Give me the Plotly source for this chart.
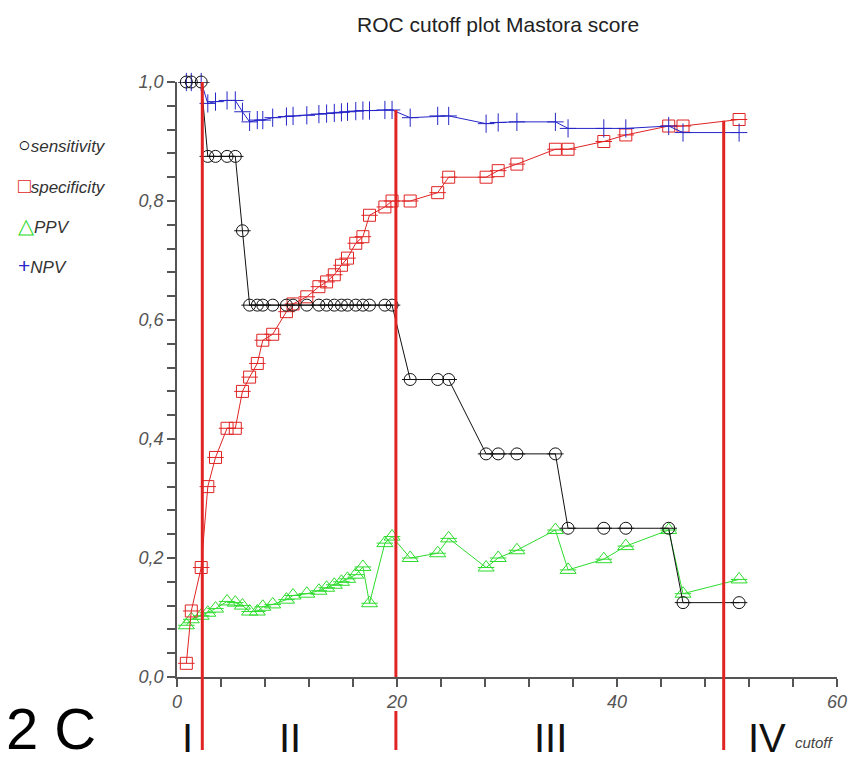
import plotly.graph_objects as go

# ---- data ----
cutoff = [0.85, 1.3, 2.2, 2.8, 3.5, 4.55, 5.3, 5.95, 6.6, 7.3, 7.8, 8.7, 9.95, 10.55,
          11.8, 12.9, 13.6, 14.3, 14.95, 15.5, 16.25, 16.9, 17.5, 18.9, 19.55, 21.2,
          23.7, 24.7, 28.1, 29.2, 30.9, 34.4, 35.55, 38.8, 40.8, 44.7, 46.0, 51.1]
sensitivity = [1.0, 1.0, 1.0, 0.875, 0.875, 0.875, 0.875, 0.75,
               0.625, 0.625, 0.625, 0.625, 0.625, 0.625, 0.625, 0.625, 0.625,
               0.625, 0.625, 0.625, 0.625, 0.625, 0.625, 0.625, 0.625,
               0.5, 0.5, 0.5, 0.375, 0.375, 0.375, 0.375, 0.25, 0.25, 0.25, 0.25,
               0.125, 0.125]
specificity = [0.023, 0.111, 0.184, 0.32, 0.369, 0.418, 0.418, 0.48, 0.504, 0.527,
               0.566, 0.576, 0.614, 0.627, 0.639, 0.656, 0.664, 0.676, 0.692, 0.704,
               0.729, 0.74, 0.776, 0.79, 0.80, 0.80, 0.814, 0.84, 0.84, 0.851, 0.862,
               0.887, 0.887, 0.90, 0.911, 0.926, 0.926, 0.937]
ppv = [0.087, 0.097, 0.103, 0.108, 0.115, 0.127, 0.125, 0.12, 0.11, 0.11, 0.118,
       0.122, 0.13, 0.137, 0.14, 0.145, 0.15, 0.155, 0.16, 0.165, 0.172, 0.185,
       0.124, 0.225, 0.236, 0.20, 0.208, 0.233, 0.184, 0.20, 0.213, 0.247, 0.18,
       0.198, 0.22, 0.247, 0.14, 0.164]
npv = [1.0, 1.0, 1.0, 0.964, 0.967, 0.969, 0.969, 0.95, 0.933, 0.936, 0.936, 0.94,
       0.942, 0.943, 0.944, 0.946, 0.947, 0.948, 0.949, 0.95, 0.951, 0.952, 0.952,
       0.953, 0.953, 0.94, 0.943, 0.943, 0.93, 0.932, 0.933, 0.933, 0.922, 0.922,
       0.922, 0.926, 0.915, 0.915]
region_cuts = [2.3, 19.9, 49.7]
region_tops = [1.0, 0.953, 0.935]
region_labels = ["I", "II", "III", "IV"]

X_RANGE = [0, 60]
Y_RANGE = [0, 1.0]

# ---- layout geometry ----
W, H = 850, 762
L, R, T, B = 177, 13, 82, 85
PW, PH = W - L - R, H - T - B

def px_x(p):
    return (p - L) / PW

def px_y(p):
    return (H - B - p) / PH

def dx(v):
    return (v - X_RANGE[0]) / (X_RANGE[1] - X_RANGE[0])

def dy(v):
    return (v - Y_RANGE[0]) / (Y_RANGE[1] - Y_RANGE[0])

BLACK = "#111111"
RED = "#e02424"
GREEN = "#2edc2e"
BLUE = "#2626c8"

fig = go.Figure()

def add(y, name, color, symbol, size):
    fig.add_trace(go.Scatter(
        x=cutoff, y=y, name=name, mode="lines+markers",
        line=dict(color=color, width=1),
        marker=dict(symbol=symbol, size=size, color=color, line=dict(color=color, width=1)),
        error_x=dict(type="constant", value=0.75, width=0, thickness=1, color=color),
        cliponaxis=False, showlegend=False))

add(ppv, "PPV", GREEN, "triangle-up-open", 14)
add(specificity, "specificity", RED, "square-open", 12)
add(npv, "NPV", BLUE, "line-ns-open", 13)
add(sensitivity, "sensitivity", BLACK, "circle-open", 12)

shapes = []
bottom = px_y(750)
for i, (c, top) in enumerate(zip(region_cuts, region_tops)):
    xp = dx(c)
    if i == 1:
        shapes.append(dict(type="line", xref="paper", yref="paper", x0=xp, x1=xp,
                           y0=dy(top), y1=0, line=dict(color=RED, width=3)))
        shapes.append(dict(type="line", xref="paper", yref="paper", x0=xp, x1=xp,
                           y0=px_y(711), y1=bottom, line=dict(color=RED, width=3)))
    else:
        shapes.append(dict(type="line", xref="paper", yref="paper", x0=xp, x1=xp,
                           y0=dy(top), y1=bottom, line=dict(color=RED, width=3)))

annotations = []
FONT = "Liberation Sans, Arial, sans-serif"
# legend on the left
legend_items = [("○", BLACK, "sensitivity", 145), ("□", RED, "specificity", 185),
                ("△", GREEN, "PPV", 225), ("+", BLUE, "NPV", 265)]
for sym, col, txt, yp in legend_items:
    annotations.append(dict(
        xref="paper", yref="paper", x=px_x(16), y=px_y(yp), xanchor="left", yanchor="middle",
        text=f'<span style="color:{col};font-size:21px">{sym}</span><i>{txt}</i>',
        showarrow=False, font=dict(family=FONT, size=17, color="#333333")))

# roman numerals
for lab, xp in zip(region_labels, [187, 290, 550, 767]):
    annotations.append(dict(xref="paper", yref="paper", x=px_x(xp), y=px_y(738),
                            xanchor="center", yanchor="middle", text=lab, showarrow=False,
                            font=dict(family=FONT, size=40, color="#111111")))
annotations.append(dict(xref="paper", yref="paper", x=px_x(793), y=px_y(742),
                        xanchor="left", yanchor="middle", text="<i>cutoff</i>", showarrow=False,
                        font=dict(family=FONT, size=15, color="#444444")))
annotations.append(dict(xref="paper", yref="paper", x=px_x(4), y=px_y(728),
                        xanchor="left", yanchor="middle", text="2 C", showarrow=False,
                        font=dict(family=FONT, size=58, color="#000000")))
annotations.append(dict(xref="paper", yref="paper", x=px_x(498), y=px_y(25),
                        xanchor="center", yanchor="middle", text="ROC cutoff plot Mastora score",
                        showarrow=False, font=dict(family=FONT, size=21, color="#222222")))

AX = "#555555"
fig.update_layout(
    width=W, height=H,
    margin=dict(l=L, r=R, t=T, b=B, pad=0, autoexpand=False),
    paper_bgcolor="white", plot_bgcolor="white",
    separators=",.",
    shapes=shapes, annotations=annotations,
    xaxis=dict(range=X_RANGE, showgrid=False, zeroline=False, showline=True, automargin=False,
               linecolor=AX, linewidth=1.5, ticks="outside", ticklen=8, tickwidth=1.5,
               tickcolor=AX, tickvals=[0, 20, 40, 60],
               tickfont=dict(family=FONT, size=18, color="#555555", style="italic"),
               minor=dict(dtick=4, ticks="outside", ticklen=8, tickwidth=1.5, tickcolor=AX)),
    yaxis=dict(range=Y_RANGE, showgrid=False, zeroline=False, showline=True, automargin=False,
               linecolor=AX, linewidth=1.5, ticks="outside", ticklen=8, tickwidth=1.5,
               tickcolor=AX, tickvals=[0, 0.2, 0.4, 0.6, 0.8, 1.0], tickformat=".1f",
               tickfont=dict(family=FONT, size=18, color="#555555", style="italic"),
               minor=dict(dtick=0.04, ticks="outside", ticklen=8, tickwidth=1.5, tickcolor=AX)),
)

fig.write_html("out.html")
